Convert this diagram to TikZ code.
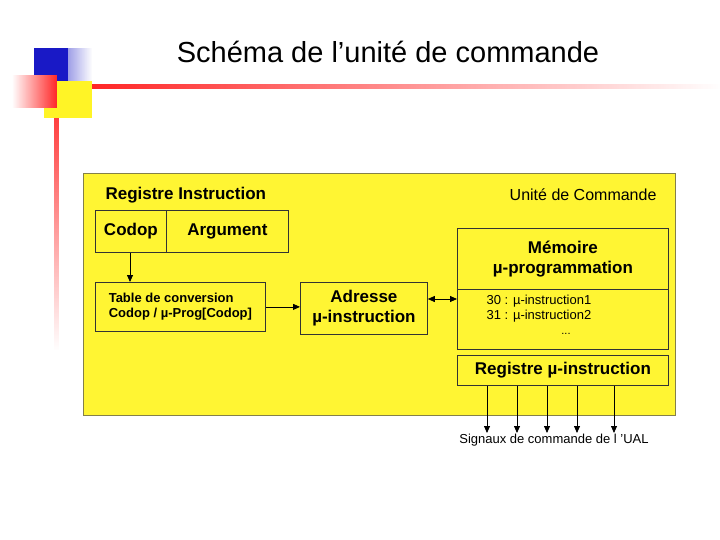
\documentclass[tikz,border=0pt]{standalone}
\usepackage{fontspec}
\setmainfont{Liberation Sans}
\usetikzlibrary{arrows.meta,fadings}
\begin{document}
\begin{tikzpicture}[x=1pt,y=-1pt,
  box/.style={draw=black!80,line width=0.8pt},
  arr/.style={-{Triangle[length=7pt,width=6pt]},line width=0.8pt},
  bt/.style={font=\fontsize{17}{20}\selectfont\bfseries},
  st/.style={font=\fontsize{13}{15}\selectfont\bfseries,align=left}]
\useasboundingbox (0,0) rectangle (720,540);
\fill[white] (0,0) rectangle (720,540);
% decoration
\fill[blue!75!black!90, path fading=east] (34,48) rectangle (92,82);
\fill[blue!75!black!90] (34,48) rectangle (68,82);
\fill[red!85, path fading=east] (92,84) rectangle (720,89);
\fill[red!75, path fading=south] (54,118) rectangle (59,350);
\fill[yellow!85!white] (44,81) rectangle (92,118);
\fill[white] (12,75) rectangle (57,108);
\fill[red!85, path fading=west] (12,75) rectangle (57,108);
\node[font=\fontsize{29}{32}\selectfont] (title) at (388,52) {Schéma de l’unité de commande};
% main
\node[draw=black!55!yellow,fill=yellow!80!white,line width=1pt,minimum width=592pt,minimum height=242pt,anchor=north west,inner sep=0] (uc) at (83,173) {};
\node[bt,anchor=west] (ri) at (102,195) {Registre Instruction};
\node[font=\fontsize{16}{19}\selectfont,anchor=east] (ucl) at (660,195) {Unité de Commande};
\node[box,minimum width=71pt,minimum height=42pt,anchor=north west,inner sep=0,bt] (codop) at (95,210) {Codop};
\node[box,minimum width=122pt,minimum height=42pt,anchor=north west,inner sep=0,bt] (argt) at (166,210) {Argument};
\node[box,minimum width=170pt,minimum height=49pt,anchor=north west,inner sep=0,st] (table) at (95,282) {Table de conversion\\Codop / µ-Prog[Codop]};
\node[box,minimum width=127pt,minimum height=52pt,anchor=north west,inner sep=0,bt,align=center] (adr) at (300,282) {Adresse\\µ-instruction};
\node[box,minimum width=211pt,minimum height=61pt,anchor=north west,inner sep=0,bt,align=center] (mem) at (457,228) {Mémoire\\µ-programmation};
\node[box,minimum width=211pt,minimum height=60pt,anchor=north west,inner sep=0] (memb) at (457,289) {};
\node[font=\fontsize{13}{15}\selectfont,align=left,anchor=north west] (mtxt) at (483,292) {30 : µ-instruction1\\31 : µ-instruction2};
\node[font=\fontsize{11}{13}\selectfont] (dots) at (566,334) {...};
\node[box,minimum width=211pt,minimum height=30pt,anchor=north west,inner sep=0,bt] (rmi) at (457,355) {Registre µ-instruction};
\draw[arr] (codop.south -| 130,0) -- (table.north -| 130,0);
\draw[arr] (table.east) -- (adr.west |- table.east);
\draw[{Triangle[length=7pt,width=6pt]}-{Triangle[length=7pt,width=6pt]},line width=0.8pt] (adr.east |- 0,299) -- (memb.west |- 0,299);
\node[font=\fontsize{13}{15}\selectfont] (sig) at (554,440) {Signaux de commande de l ’UAL};
\foreach \x in {487,517,547,577,614}
  \draw[arr] (rmi.south -| \x,0) -- (\x,433);
\end{tikzpicture}
\end{document}
